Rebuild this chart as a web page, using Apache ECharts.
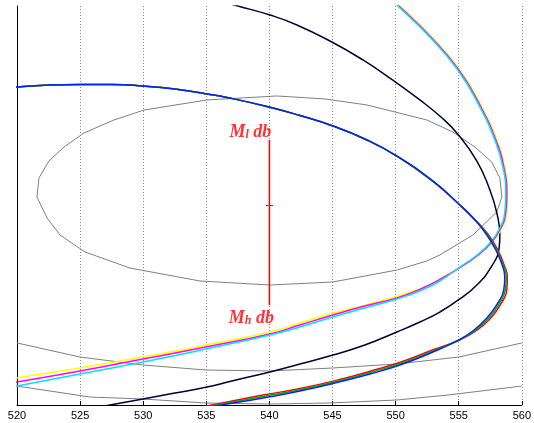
<!DOCTYPE html>
<html>
<head>
<meta charset="utf-8">
<script src="https://cdn.jsdelivr.net/npm/echarts@6/dist/echarts.min.js"></script>
<style>html,body{margin:0;padding:0;background:#fff;}#c{width:534px;height:423px;}</style>
</head>
<body>
<div id="c"></div>
<script>
// ---- data (x in axis units 520..560, y in hidden axis units -20..20) ----
const xTicks = [520, 525, 530, 535, 540, 545, 550, 555, 560];

const grayEllipse = [
  [521.58, 0.85], [521.74, 2.76], [522.53, 4.46], [523.72, 5.86], [525.31, 7.27], [527.68, 8.57],
  [530.06, 9.57], [535.05, 10.58], [540.59, 10.98], [544.40, 10.68], [547.72, 10.08], [552.48, 8.57],
  [554.53, 7.37], [556.28, 5.86], [557.62, 4.36], [558.26, 2.76], [558.42, 0.85], [558.02, -0.65],
  [556.12, -2.96], [553.50, -4.96], [552.48, -5.56], [550.10, -6.47], [545.03, -7.67], [540.04, -7.97],
  [534.50, -7.57], [528.95, -6.27], [525.39, -4.66], [523.41, -2.96], [522.38, -1.25], [521.58, 0.85]
];
const grayUpper = [
  [520, -13.78], [524.99, -15.19], [529.98, -15.99], [534.97, -16.49], [540.04, -16.59],
  [545.03, -16.29], [550.10, -15.89], [555.01, -15.19], [560, -13.78]
];
const grayLower = [
  [520, -18.10], [525.78, -19.20], [529.98, -19.40], [534.97, -19.80], [540.04, -19.90],
  [544.79, -19.80], [550.10, -19.50], [554.14, -19.00], [560, -18.10]
];
const blackCurve = [
  [534.89, 20.90], [537.50, 20.00], [540.04, 19.10], [542.18, 18.10], [544.95, 16.39], [547.41, 14.59],
  [549.54, 12.78], [551.92, 10.58], [553.50, 8.97], [554.85, 7.27], [556.44, 4.46], [557.47, 1.55],
  [558.02, -0.75], [558.26, -2.96], [558.18, -4.46], [557.62, -6.07], [556.52, -7.87], [555.09, -9.37],
  [553.50, -10.68], [551.92, -11.68], [550.10, -12.68], [547.56, -13.98], [545.03, -14.99],
  [542.42, -15.89], [540.04, -16.69], [537.03, -17.59], [535.05, -18.20], [532.51, -18.80],
  [529.98, -19.40], [527.37, -20.00], [525.62, -20.40]
];
const yellowCurve = [
  [549.31, 21.20], [550.34, 20.00], [552.87, 16.89], [555.09, 13.58], [556.83, 9.88], [558.02, 6.57],
  [558.65, 3.86], [558.85, 1.05], [558.81, -0.65], [558.42, -2.26], [557.62, -3.66], [556.52, -4.96],
  [555.25, -6.07], [553.66, -7.27], [552.08, -8.27], [550.18, -9.07], [547.64, -9.97], [545.03, -10.78],
  [542.42, -11.78], [540.04, -12.68], [534.97, -13.99], [529.98, -15.19], [524.99, -16.29],
  [520, -17.29], [518.65, -17.59]
];
const magentaCurve = [
  [549.23, 21.20], [550.26, 20.00], [552.79, 16.89], [555.01, 13.58], [556.75, 9.88], [557.94, 6.57],
  [558.57, 3.86], [558.81, 1.05], [558.73, -0.65], [558.34, -2.26], [557.55, -3.76], [556.44, -5.06],
  [555.17, -6.17], [553.58, -7.37], [552.00, -8.37], [550.10, -9.27], [547.56, -10.08], [545.03, -10.98],
  [542.42, -11.98], [540.04, -12.88], [534.97, -14.19], [529.98, -15.39], [524.99, -16.59],
  [520, -17.69], [518.65, -17.99]
];
const cyanCurve = [
  [549.15, 21.20], [550.18, 20.00], [552.71, 16.89], [554.93, 13.58], [556.67, 9.88], [557.86, 6.57],
  [558.50, 3.86], [558.73, 1.05], [558.65, -0.65], [558.26, -2.26], [557.47, -3.76], [556.36, -5.06],
  [555.09, -6.17], [553.50, -7.57], [551.92, -8.57], [550.10, -9.37], [547.56, -10.28], [545.03, -11.18],
  [542.42, -12.18], [540.04, -12.98], [534.97, -14.39], [529.98, -15.69], [524.99, -16.89],
  [520, -18.10], [518.65, -18.40]
];
const blueTopShared = [
  [518.65, 11.78], [520, 11.88], [522.61, 12.08], [524.99, 12.13], [527.52, 12.13], [529.98, 11.98],
  [532.51, 11.68], [535.05, 11.18], [536.63, 10.83], [539.96, 9.88], [542.42, 9.02], [545.03, 7.97],
  [547.56, 6.67], [550.10, 4.96]
];
const redTail = [
  [552.95, 2.41], [555.09, 0.05], [556.28, -1.40], [557.31, -2.86], [558.10, -4.46], [558.57, -5.87],
  [558.85, -7.17], [558.81, -8.47], [558.34, -9.87], [557.47, -11.38], [556.36, -12.58], [555.09, -13.48],
  [553.03, -14.44], [550.42, -15.69], [548.04, -16.59], [545.90, -17.34], [542.42, -18.35],
  [539.49, -19.00], [535.45, -20.00], [533.70, -20.40]
];
const greenTail = [
  [552.95, 2.43], [555.09, 0.05], [556.28, -1.42], [557.27, -2.91], [558.02, -4.46], [558.50, -5.87],
  [558.77, -7.17], [558.69, -8.47], [558.22, -9.82], [557.35, -11.33], [556.24, -12.58], [554.97, -13.53],
  [552.99, -14.57], [550.38, -15.84], [548.00, -16.74], [545.86, -17.47], [542.42, -18.48],
  [539.49, -19.15], [535.84, -20.00], [534.10, -20.40]
];
const blueTail = [
  [552.95, 2.46], [555.09, 0.05], [556.28, -1.45], [557.23, -2.96], [557.94, -4.46], [558.42, -5.87],
  [558.65, -7.17], [558.57, -8.47], [558.10, -9.77], [557.23, -11.28], [556.12, -12.58], [554.85, -13.58],
  [552.95, -14.69], [550.34, -15.99], [547.96, -16.89], [545.82, -17.59], [542.42, -18.60],
  [539.49, -19.30], [536.24, -20.00], [534.50, -20.40]
];
const markerX = 540;
const markerLow = 6.57;     // upper end (M_l)
const markerHigh = -9.97;   // lower end (M_h)
const markerMid = 0;
const markerHalfWidth = 0.28;
const markerLabels = ['l', 'h'];

// ---- chart ----
const chart = echarts.init(document.getElementById('c'), null, {renderer: 'canvas'});

function curve(name, data, color, width, smooth) {
  return {
    name: name, type: 'line', data: data, showSymbol: false, symbol: 'none',
    smooth: smooth, smoothMonotone: 'none', clip: true, silent: true,
    lineStyle: {color: color, width: width}
  };
}

const labelRich = {
  m: {fontSize: 18, fontFamily: 'Liberation Serif', fontWeight: 'bold', fontStyle: 'italic',
      color: '#ff0000', lineHeight: 20, verticalAlign: 'bottom'},
  s: {fontSize: 12, fontFamily: 'Liberation Serif', fontWeight: 'bold', fontStyle: 'italic',
      color: '#ff0000', lineHeight: 12, verticalAlign: 'bottom'}
};

const SM = true;
chart.setOption({
  animation: false,
  backgroundColor: '#ffffff',
  grid: {left: 17, right: 12, top: 6, bottom: 18, containLabel: false},
  xAxis: {
    type: 'value', min: 520, max: 560, interval: 5,
    axisLine: {show: true, onZero: false, lineStyle: {color: '#000', width: 1}},
    axisTick: {show: true, inside: true, length: 4, lineStyle: {color: '#000'}},
    axisLabel: {show: true, margin: 5, color: '#000', fontSize: 11, fontFamily: 'Liberation Sans',
      formatter: function (v) { return xTicks.indexOf(v) >= 0 ? String(v) : ''; }},
    splitLine: {show: true, lineStyle: {color: '#8a8a8a', type: [1, 2], width: 1}}
  },
  yAxis: {
    type: 'value', min: -20, max: 20,
    axisLine: {show: true, onZero: false, lineStyle: {color: '#000', width: 1}},
    axisTick: {show: false}, axisLabel: {show: false}, splitLine: {show: false}
  },
  series: [
    curve('ellipse', grayEllipse, '#7f7f7f', 1, false),
    curve('grayUpper', grayUpper, '#7f7f7f', 1, false),
    curve('grayLower', grayLower, '#7f7f7f', 1, false),
    curve('black', blackCurve, '#000033', 1.5, SM),
    curve('yellow', yellowCurve, '#ffff00', 1.5, SM),
    curve('magenta', magentaCurve, '#ff00ff', 1.5, SM),
    curve('cyan', cyanCurve, '#00e1ff', 1.5, SM),
    curve('red', blueTopShared.concat(redTail), '#ff0000', 1.5, SM),
    curve('green', blueTopShared.concat(greenTail), '#00b000', 1.5, SM),
    curve('blue', blueTopShared.concat(blueTail), '#0022ff', 1.5, SM),
    curve('marker', [[markerX, markerLow], [markerX, markerHigh]], '#ff0000', 1.5, false),
    curve('markerTick', [[markerX - markerHalfWidth, markerMid], [markerX + markerHalfWidth, markerMid]], '#ff0000', 1.2, false),
    {
      type: 'scatter', symbolSize: 0, silent: true,
      data: [
        {value: [markerX, markerLow], label: {position: 'top', distance: -1, offset: [-19, 0],
          formatter: '{m|M}{s|' + markerLabels[0] + '}{m| db}'}},
        {value: [markerX, markerHigh], label: {position: 'bottom', distance: 2, offset: [-18, 0],
          formatter: '{m|M}{s|' + markerLabels[1] + '}{m| db}'}}
      ],
      label: {show: true, rich: labelRich}
    }
  ]
});
</script>
</body>
</html>
